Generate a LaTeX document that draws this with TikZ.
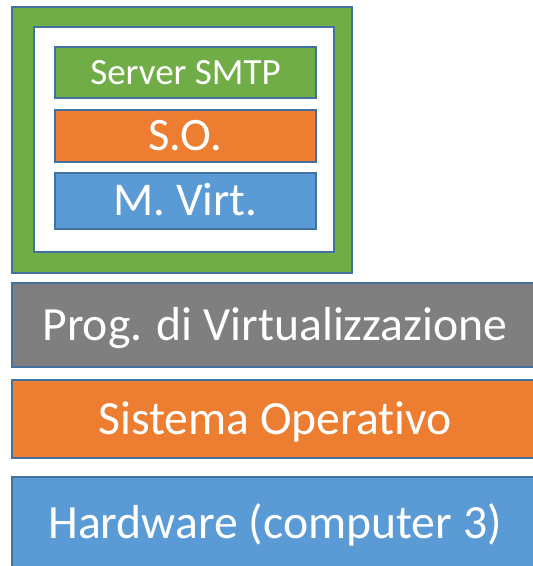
\documentclass[tikz,border=0pt]{standalone}
\usepackage{fontspec}
\setmainfont[Ligatures=NoCommon]{Carlito}
\definecolor{edge}{HTML}{41719C}
\definecolor{cgreen}{HTML}{70AD47}
\definecolor{corange}{HTML}{ED7D31}
\definecolor{cblue}{HTML}{5B9BD5}
\definecolor{cgray}{HTML}{7F7F7F}
\tikzset{
  layer/.style={draw=edge, line width=1.8pt, rectangle, inner sep=0pt, outer sep=0pt, text=white, text depth=0pt},
  txt/.style={font=\fontsize{#1}{#1}\selectfont, text height=0.632*#1 pt},
}
\begin{document}
\begin{tikzpicture}[x=1pt,y=-1pt]
\useasboundingbox (0,0) rectangle (533,566);
\clip (0,0) rectangle (533,566);
% top virtual machine frame
\node[layer, fill=cgreen, minimum width=340pt, minimum height=266pt] (frame) at (182,140) {};
\node[layer, fill=white, minimum width=300pt, minimum height=225pt] (inner) at (184,139.5) {};
\node[layer, fill=cgreen, minimum width=261pt, minimum height=51pt, txt=37] (smtp) at (185.5,72.5) {Server SMTP};
\node[layer, fill=corange, minimum width=261pt, minimum height=52pt, txt=46.5] (so) at (185.5,136) {S.O.};
\node[layer, fill=cblue, minimum width=261pt, minimum height=56pt, txt=47] (mv) at (185.5,201) {M. Virt.};
% host layers
\node[layer, fill=cgray, minimum width=526pt, minimum height=84pt, txt=47.7] (prog) at (275,325) {Prog. di Virtualizzazione};
\node[layer, fill=corange, minimum width=526pt, minimum height=78pt, txt=47.7] (sys) at (275,419) {Sistema Operativo};
\node[layer, fill=cblue, minimum width=526pt, minimum height=92pt, txt=47.7] (hw) at (275,523) {Hardware (computer 3)};
\end{tikzpicture}
\end{document}
